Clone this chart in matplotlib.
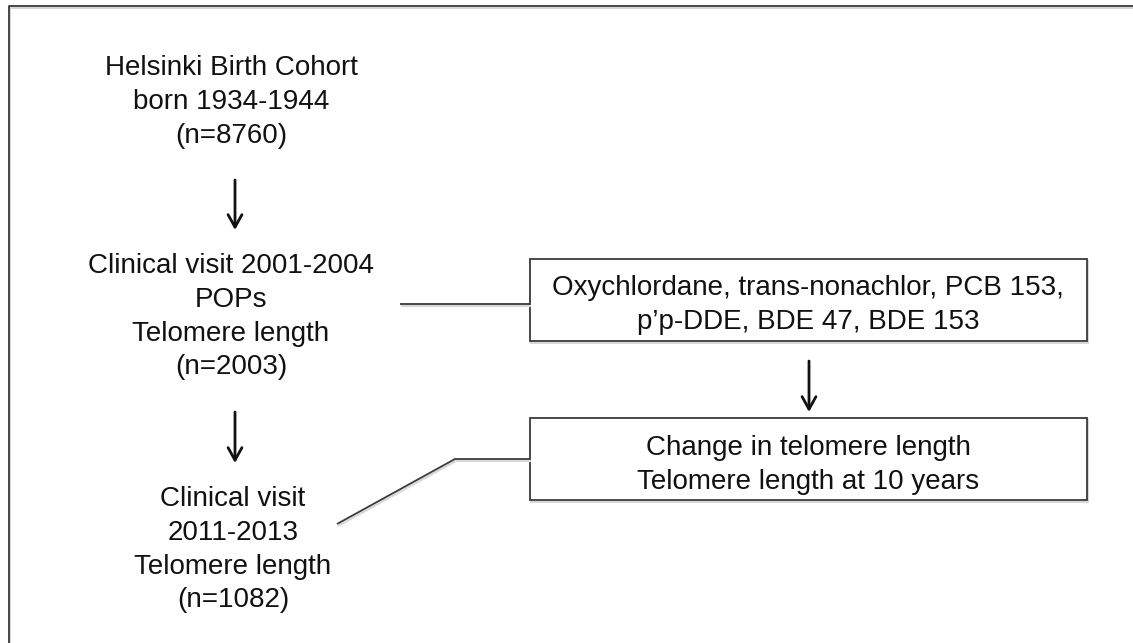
import matplotlib.pyplot as plt
from matplotlib.patches import Rectangle

plt.rcParams['font.family'] = ['Liberation Sans', 'DejaVu Sans']

# text of the flow chart
cohort_lines = ["Helsinki Birth Cohort", "born 1934-1944", "(n=8760)"]
visit1_lines = ["Clinical visit 2001-2004", "POPs", "Telomere length", "(n=2003)"]
visit2_lines = ["Clinical visit", "2011-2013", "Telomere length", "(n=1082)"]
pops_lines = ["Oxychlordane, trans-nonachlor, PCB 153,", "p\u2019p-DDE, BDE 47, BDE 153"]
outcome_lines = ["Change in telomere length", "Telomere length at 10 years"]

W, H = 1133, 643
fig = plt.figure(figsize=(W / 100, H / 100), dpi=100)
ax = fig.add_axes([0, 0, 1, 1])
ax.set_xlim(0, W)
ax.set_ylim(H, 0)
ax.axis('off')

txt = '#111111'
edge = '#3a3a3a'
fs = 20


def block(lines, x, y0, step=33.8):
    for i, s in enumerate(lines):
        ax.text(x, y0 + i * step, s, ha='center', va='center', fontsize=fs, color=txt)


def arrow(x, y0, y1):
    ax.annotate('', xy=(x, y1), xytext=(x, y0),
                arrowprops=dict(arrowstyle='->,head_length=0.45,head_width=0.25',
                                lw=2.0, color='#111111', mutation_scale=20,
                                shrinkA=0, shrinkB=0))


def line(xs, ys):
    ax.plot([v + 1 for v in xs], [v + 2 for v in ys], color='#d8d8d8', lw=1.5,
            solid_capstyle='butt')
    ax.plot(xs, ys, color=edge, lw=1.3, solid_capstyle='butt')


# outer frame (only left and top visible)
line([9, 9, W + 5], [H + 5, 6, 6])

# left column
block(cohort_lines, 231, 68)
arrow(235, 180, 230)
block(visit1_lines, 231, 266)
arrow(235, 412, 463)
block(visit2_lines, 233, 499)

# boxes on the right
for (x0, y0, x1, y1) in [(530, 259, 1087, 341), (530, 418, 1087, 500)]:
    ax.add_patch(Rectangle((x0 + 1, y0 + 2), x1 - x0, y1 - y0, fill=False,
                           ec='#d8d8d8', lw=1.5))
    ax.add_patch(Rectangle((x0, y0), x1 - x0, y1 - y0, fill=True, fc='white',
                           ec=edge, lw=1.3))

block(pops_lines, 808, 288)
block(outcome_lines, 808, 448)

# connectors
line([400, 530], [304, 304])
arrow(809, 361, 412)
line([337, 455, 530], [524, 459, 459])

fig.savefig('out.png', dpi=100)
